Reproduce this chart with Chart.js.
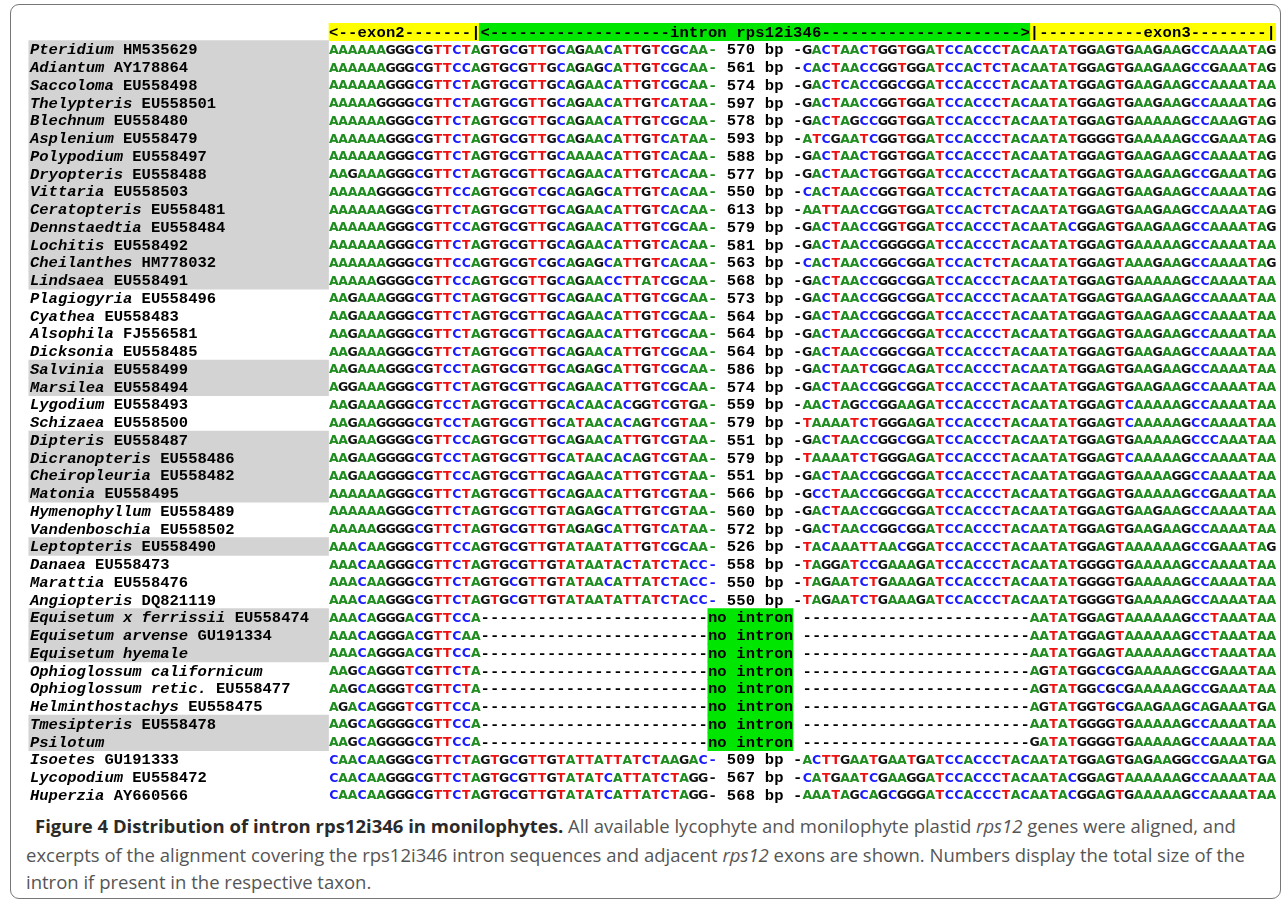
<!DOCTYPE html>
<html lang="en">
<head>
<meta charset="UTF-8">
<title>Distribution of intron rps12i346 in monilophytes</title>
<script src="https://cdn.jsdelivr.net/npm/chart.js@4/dist/chart.umd.min.js"></script>
<style>
  html, body { margin: 0; padding: 0; background: #fff; }
  #frame { position: absolute; left: 10px; top: 4px; width: 1271px; height: 895px; border: 1px solid #777; border-radius: 9px; box-sizing: border-box; }
  #wrap { position: absolute; left: 0; top: 0; width: 1287px; height: 810px; }
  .cap { position: absolute; font-family: "Open Sans", sans-serif; font-size: 18.5px; line-height: 22px; color: #555; white-space: nowrap; }
  .cap b { color: #2a2a2a; }
</style>
</head>
<body>
<div id="frame"></div>
<div id="wrap"><canvas id="aln"></canvas></div>
<div class="cap" style="left:35px; top:815px"><b>Figure 4 Distribution of intron rps12i346 in monilophytes.</b> All available lycophyte and monilophyte plastid <i>rps12</i> genes were aligned, and</div>
<div class="cap" style="left:26px; top:844px">excerpts of the alignment covering the rps12i346 intron sequences and adjacent <i>rps12</i> exons are shown. Numbers display the total size of the</div>
<div class="cap" style="left:26px; top:871px">intron if present in the respective taxon.</div>
<script>
// taxa (italic part) and accession numbers
const taxa = ['Pteridium', 'Adiantum', 'Saccoloma', 'Thelypteris', 'Blechnum', 'Asplenium', 'Polypodium',
  'Dryopteris', 'Vittaria', 'Ceratopteris', 'Dennstaedtia', 'Lochitis', 'Cheilanthes', 'Lindsaea',
  'Plagiogyria', 'Cyathea', 'Alsophila', 'Dicksonia', 'Salvinia', 'Marsilea', 'Lygodium', 'Schizaea',
  'Dipteris', 'Dicranopteris', 'Cheiropleuria', 'Matonia', 'Hymenophyllum', 'Vandenboschia', 'Leptopteris',
  'Danaea', 'Marattia', 'Angiopteris', 'Equisetum x ferrissii', 'Equisetum arvense', 'Equisetum hyemale',
  'Ophioglossum californicum', 'Ophioglossum retic.', 'Helminthostachys', 'Tmesipteris', 'Psilotum',
  'Isoetes', 'Lycopodium', 'Huperzia'];
const accessions = ['HM535629', 'AY178864', 'EU558498', 'EU558501', 'EU558480', 'EU558479', 'EU558497',
  'EU558488', 'EU558503', 'EU558481', 'EU558484', 'EU558492', 'HM778032', 'EU558491',
  'EU558496', 'EU558483', 'FJ556581', 'EU558485', 'EU558499', 'EU558494', 'EU558493', 'EU558500',
  'EU558487', 'EU558486', 'EU558482', 'EU558495', 'EU558489', 'EU558502', 'EU558490',
  'EU558473', 'EU558476', 'DQ821119', 'EU558474', 'GU191334', '',
  '', 'EU558477', 'EU558475', 'EU558478', '',
  'GU191333', 'EU558472', 'AY660566'];

// exon2 side of the alignment
const exon2Seqs = [
  'AAAAAAGGGCGTTCTAGTGCGTTGCAGAACATTGTCGCAA',
  'AAAAAAGGGCGTTCCAGTGCGTTGCAGAGCATTGTCGCAA',
  'AAAAAAGGGCGTTCTAGTGCGTTGCAGAACATTGTCGCAA',
  'AAAAAGGGGCGTTCTAGTGCGTTGCAGAACATTGTCATAA',
  'AAAAAAGGGCGTTCTAGTGCGTTGCAGAACATTGTCGCAA',
  'AAAAAAGGGCGTTCTAGTGCGTTGCAGAACATTGTCATAA',
  'AAAAAAGGGCGTTCTAGTGCGTTGCAAAACATTGTCACAA',
  'AAGAAAGGGCGTTCTAGTGCGTTGCAGAACATTGTCACAA',
  'AAAAAGGGGCGTTCCAGTGCGTCGCAGAGCATTGTCACAA',
  'AAAAAAGGGCGTTCTAGTGCGTTGCAGAACATTGTCACAA',
  'AAAAAAGGGCGTTCCAGTGCGTTGCAGAACATTGTCGCAA',
  'AAAAAAGGGCGTTCTAGTGCGTTGCAGAACATTGTCACAA',
  'AAAAAAGGGCGTTCCAGTGCGTCGCAGAGCATTGTCACAA',
  'AAAAAGGGGCGTTCCAGTGCGTTGCAGAACCTTATCGCAA',
  'AAGAAAGGGCGTTCTAGTGCGTTGCAGAACATTGTCGCAA',
  'AAGAAAGGGCGTTCTAGTGCGTTGCAGAACATTGTCGCAA',
  'AAGAAAGGGCGTTCTAGTGCGTTGCAGAACATTGTCGCAA',
  'AAGAAAGGGCGTTCTAGTGCGTTGCAGAACATTGTCGCAA',
  'AAGAAAGGGCGTCCTAGTGCGTTGCAGAGCATTGTCGCAA',
  'AGGAAAGGGCGTTCTAGTGCGTTGCAGAACATTGTCGCAA',
  'AAGAAAGGGCGTCCTAGTGCGTTGCACAACACGGTCGTGA',
  'AAGAAGGGGCGTCCTAGTGCGTTGCATAACACAGTCGTAA',
  'AAGAAGGGGCGTTCCAGTGCGTTGCAGAACATTGTCGTAA',
  'AAGAAGGGGCGTCCTAGTGCGTTGCATAACACAGTCGTAA',
  'AAGAAGGGGCGTTCCAGTGCGTTGCAGAACATTGTCGTAA',
  'AAAAAAGGGCGTTCTAGTGCGTTGCAGAACATTGTCGTAA',
  'AAAAAAGGGCGTTCTAGTGCGTTGTAGAGCATTGTCGTAA',
  'AAAAAGGGGCGTTCTAGTGCGTTGTAGAGCATTGTCATAA',
  'AAACAAGGGCGTTCCAGTGCGTTGTATAATATTGTCGCAA',
  'AAACAAGGGCGTTCTAGTGCGTTGTATAATACTATCTACC',
  'AAACAAGGGCGTTCTAGTGCGTTGTATAACATTATCTACC',
  'AAACAAGGGCGTTCTAGTGCGTTGTATAATATTATCTACC',
  'AAACAGGGACGTTCCA',
  'AAACAGGGACGTTCAA',
  'AAACAGGGACGTTCCA',
  'AAGCAGGGTCGTTCTA',
  'AAGCAGGGTCGTTCTA',
  'AGACAGGGTCGTTCCA',
  'AAGCAGGGGCGTTCCA',
  'AAGCAGGGGCGTTCCA',
  'CAACAAGGGCGTTCTAGTGCGTTGTATTATTATCTAAGAC',
  'CAACAAGGGCGTTCTAGTGCGTTGTATATCATTATCTAGG',
  'CAACAAGGGCGTTCTAGTGCGTTGTATATCATTATCTAGG'];

// intron size in bp (null = no intron)
const intronSizes = [570, 561, 574, 597, 578, 593, 588, 577, 550, 613, 579, 581, 563, 568,
  573, 564, 564, 564, 586, 574, 559, 579, 551, 579, 551, 566, 560, 572, 526,
  558, 550, 550, null, null, null, null, null, null, null, null, 509, 567, 568];

// exon3 side of the alignment
const exon3Seqs = [
  'GACTAACTGGTGGATCCACCCTACAATATGGAGTGAAGAAGCCAAAATAG',
  'CACTAACCGGTGGATCCACTCTACAATATGGAGTGAAGAAGCCGAAATAG',
  'GACTCACCGGCGGATCCACCCTACAATATGGAGTGAAGAAGCCAAAATAA',
  'GACTAACCGGTGGATCCACCCTACAATATGGAGTGAAGAAGCCAAAATAG',
  'GACTAGCCGGTGGATCCACCCTACAATATGGAGTGAAAAAGCCAAAGTAG',
  'ATCGAATCGGTGGATCCACCCTACAATATGGGGTGAAAAAGCCGAAATAG',
  'GACTAACTGGTGGATCCACCCTACAATATGGAGTGAAGAAGCCAAAATAG',
  'GACTAACTGGTGGATCCACCCTACAATATGGAGTGAAGAAGCCGAAATAG',
  'CACTAACCGGTGGATCCACTCTACAATATGGAGTGAAGAAGCCAAAATAG',
  'AATTAACCGGTGGATCCACTCTACAATATGGAGTGAAGAAGCCAAAATAG',
  'GACTAACCGGTGGATCCACCCTACAATACGGAGTGAAGAAGCCAAAATAG',
  'GACTAACCGGGGGATCCACCCTACAATATGGAGTGAAAAAGCCAAAATAA',
  'CACTAACCGGCGGATCCACTCTACAATATGGAGTAAAGAAGCCAAAATAG',
  'GACTAACCGGCGGATCCACCCTACAATATGGAGTGAAAAAGCCAAAATAA',
  'GACTAACCGGCGGATCCACCCTACAATATGGAGTGAAGAAGCCAAAATAA',
  'GACTAACCGGCGGATCCACCCTACAATATGGAGTGAAGAAGCCAAAATAA',
  'GACTAACCGGCGGATCCACCCTACAATATGGAGTGAAGAAGCCAAAATAA',
  'GACTAACCGGCGGATCCACCCTACAATATGGAGTGAAGAAGCCAAAATAA',
  'GACTAATCGGCAGATCCACCCTACAATATGGAGTGAAGAAGCCAAAATAA',
  'GACTAACCGGCGGATCCACCCTACAATATGGAGTGAAGAAGCCAAAATAA',
  'AACTAGCCGGAAGATCCACCCTACAATATGGAGTCAAAAAGCCAAAATAA',
  'TAAAATCTGGGAGATCCACCCTACAATATGGAGTCAAAAAGCCAAAATAA',
  'GACTAACCGGCGGATCCACCCTACAATATGGAGTGAAAAAGCCCAAATAA',
  'TAAAATCTGGGAGATCCACCCTACAATATGGAGTCAAAAAGCCAAAATAA',
  'GACTAACCGGCGGATCCACCCTACAATATGGAGTGAAAAGGCCAAAATAA',
  'GCCTAACCGGCGGATCCACCCTACAATATGGAGTGAAAAAGCCGAAATAA',
  'GACTAACCGGCGGATCCACCCTACAATATGGAGTGAAGAAGCCAAAATAA',
  'GACTAACCGGCGGATCCACCCTACAATATGGAGTGAAGAAGCCAAAATAA',
  'TACAAATTAACGGATCCACCCTACAATATGGAGTAAAAAAGCCGAAATAG',
  'TAGGATCCGAAAGATCCACCCTACAATATGGGGTGAAAAAGCCAAAATAA',
  'TAGAATCTGAAAGATCCACCCTACAATATGGGGTGAAAAAGCCAAAATAA',
  'TAGAATCTGAAAGATCCACCCTACAATATGGGGTGAAAAAGCCAAAATAA',
  'AATATGGAGTAAAAAAGCCTAAATAA',
  'AATATGGAGTAAAAAAGCCTAAATAA',
  'AATATGGAGTAAAAAAGCCTAAATAA',
  'AGTATGGCGCGAAAAAGCCGAAATAA',
  'AGTATGGCGCGAAAAAGCCGAAATAA',
  'AGTATGGTGCGAAGAAGCAGAAATGA',
  'AATATGGGGTGAAAAAGCCAAAATAA',
  'GATATGGGGTGAAAAAGCCAAAATAA',
  'ACTTGAATGAATGATCCACCCTACAATATGGAGTGAGAAGGCCGAAATGA',
  'CATGAATCGAAGGATCCACCCTACAATACGGAGTAAAAAAGCCAAAATAA',
  'AAATAGCAGCGGGATCCACCCTACAATACGGAGTGAAAAAGCCAAAATAA'];

// rows with grey name background
const shadedRows = [0, 1, 2, 3, 4, 5, 6, 7, 8, 9, 10, 11, 12, 13, 18, 19, 22, 23, 24, 25, 28, 32, 33, 34, 38, 39];

// header: region labels and their column spans
const headerLabels = ['exon2', 'intron rps12i346', 'exon3'];
const headerSpans = [[0, 16], [16, 74], [74, 100]];

const nucColors = { A: '#1e8c1e', C: '#1a1aff', G: '#111111', T: '#ee1111' };
const nucFont = 'bold 12.5px "DejaVu Sans"';
const monoFont = 'bold 15.5px "Liberation Mono"';
const italicFont = 'italic bold 15.5px "Liberation Mono"';

// full 100 column line for a row
function rowText(i) {
    const e2 = exon2Seqs[i], e3 = exon3Seqs[i];
    if (intronSizes[i] == null) {
        return e2 + '-'.repeat(40 - e2.length) + 'no intron' + ' ' + '-'.repeat(50 - e3.length) + e3;
    }
    return e2 + '- ' + intronSizes[i] + ' bp -' + e3;
}

const headerText = '<--' + headerLabels[0] + '-------|' +
    '<' + '-'.repeat(19) + headerLabels[1] + '-'.repeat(21) + '>' +
    '|' + '-'.repeat(11) + headerLabels[2] + '-'.repeat(8) + '|';

const labels = ['header'].concat(taxa);
const rowVal = (fn) => labels.map((l, k) => fn(k - 1));

const alignmentText = {
    id: 'alignmentText',
    afterDatasetsDraw(chart) {
        const ctx = chart.ctx;
        const xs = chart.scales.x, ys = chart.scales.y;
        ctx.save();
        ctx.textBaseline = 'middle';
        ctx.textAlign = 'center';

        // header line
        let y = ys.getPixelForValue(0) + 1;
        ctx.font = monoFont;
        ctx.fillStyle = '#000';
        for (let c = 0; c < headerText.length; c++) {
            ctx.fillText(headerText[c], xs.getPixelForValue(c + 0.5), y);
        }

        for (let i = 0; i < taxa.length; i++) {
            y = ys.getPixelForValue(i + 1) + 1;
            // name
            ctx.textAlign = 'left';
            ctx.fillStyle = '#000';
            let x = 30;
            ctx.font = italicFont;
            ctx.fillText(taxa[i], x, y);
            if (accessions[i]) {
                x += ctx.measureText(taxa[i] + ' ').width;
                ctx.font = monoFont;
                ctx.fillText(accessions[i], x, y);
            }
            // sequence line
            ctx.textAlign = 'center';
            const line = rowText(i);
            for (let c = 0; c < line.length; c++) {
                const ch = line[c];
                if (ch === ' ') continue;
                const px = xs.getPixelForValue(c + 0.5);
                if (nucColors[ch]) {
                    ctx.font = nucFont;
                    ctx.fillStyle = nucColors[ch];
                } else {
                    ctx.font = monoFont;
                    ctx.fillStyle = '#000';
                    if (ch === '-' && intronSizes[i] != null && c === exon2Seqs[i].length) {
                        ctx.fillStyle = nucColors[line[c - 1]];
                    }
                }
                ctx.fillText(ch, px, y);
            }
        }
        ctx.restore();
    }
};

const barDefaults = { borderWidth: 0, barPercentage: 1, categoryPercentage: 1 };

new Chart(document.getElementById('aln'), {
    type: 'bar',
    data: {
        labels: labels,
        datasets: [
            Object.assign({ label: 'names', backgroundColor: '#d3d3d3',
                data: rowVal(i => shadedRows.includes(i) ? [-31.7, -0.05] : null) }, barDefaults),
            Object.assign({ label: 'exon2', backgroundColor: '#ffff00',
                data: rowVal(i => i === -1 ? [headerSpans[0][0], headerSpans[0][1] - 0.2] : null) }, barDefaults),
            Object.assign({ label: 'intron', backgroundColor: '#00e600',
                data: rowVal(i => i === -1 ? [headerSpans[1][0] - 0.2, headerSpans[1][1]] : null) }, barDefaults),
            Object.assign({ label: 'exon3', backgroundColor: '#ffff00',
                data: rowVal(i => i === -1 ? headerSpans[2] : null) }, barDefaults),
            Object.assign({ label: 'no intron', backgroundColor: '#00e600',
                data: rowVal(i => i >= 0 && intronSizes[i] == null ? [40, 49] : null) }, barDefaults)
        ]
    },
    options: {
        indexAxis: 'y',
        responsive: true,
        maintainAspectRatio: false,
        animation: false,
        layout: { padding: { left: 25.96, right: 11, top: 22.875, bottom: 6.125 } },
        scales: {
            x: { type: 'linear', min: -32, max: 100, display: false },
            y: { type: 'category', display: false, offset: true, stacked: false }
        },
        datasets: { bar: { grouped: false } },
        plugins: { legend: { display: false }, tooltip: { enabled: false } }
    },
    plugins: [alignmentText]
});
</script>
</body>
</html>
